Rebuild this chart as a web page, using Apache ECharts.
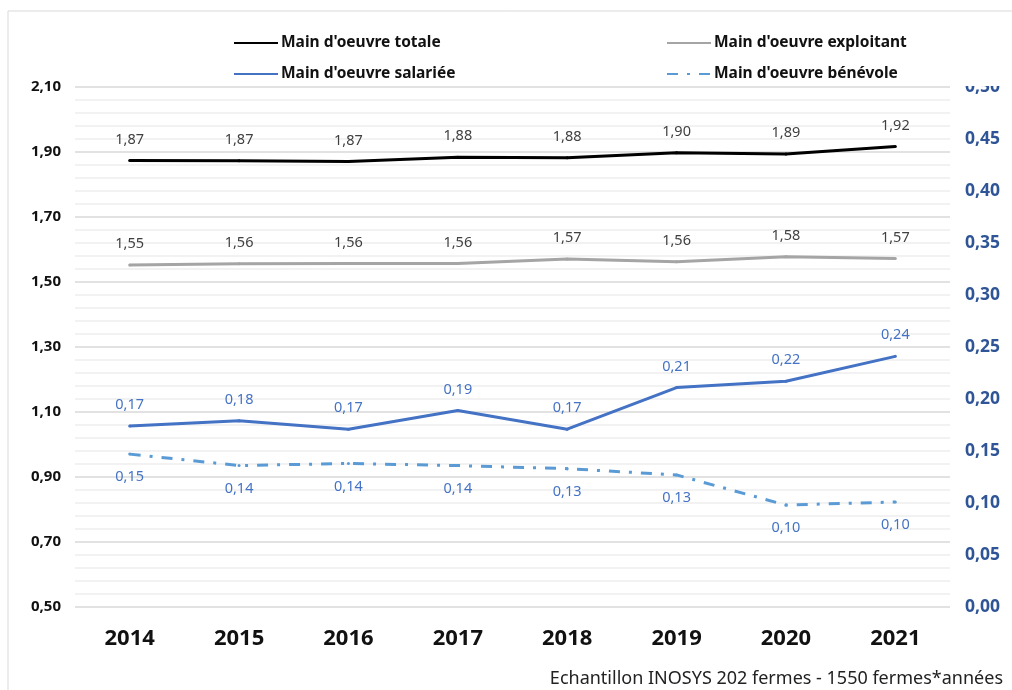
<!DOCTYPE html>
<html>
<head>
<meta charset="utf-8">
<script src="https://cdn.jsdelivr.net/npm/echarts@6/dist/echarts.min.js"></script>
<style>
    html, body { margin: 0; padding: 0; background: #fff; }
    #chart { width: 1012px; height: 690px; }
</style>
</head>
<body>
<div id="chart"></div>
<script>
// données
var years = ['2014', '2015', '2016', '2017', '2018', '2019', '2020', '2021'];
var totale = [1.874, 1.873, 1.871, 1.884, 1.882, 1.898, 1.894, 1.917];
var exploitant = [1.552, 1.556, 1.557, 1.557, 1.571, 1.562, 1.578, 1.572];
var salariee = [0.174, 0.179, 0.171, 0.189, 0.171, 0.211, 0.217, 0.241];
var benevole = [0.147, 0.136, 0.138, 0.136, 0.133, 0.127, 0.098, 0.101];

var FONT = '"Noto Sans", "Open Sans", sans-serif';

function fr(v) {
    return v.toFixed(2).replace('.', ',');
}

function lineSerie(name, data, axis, color, dash, labelColor, labelPos) {
    return {
        name: name, type: 'line', data: data, yAxisIndex: axis,
        symbol: 'circle', symbolSize: 3, showSymbol: true, z: 3,
        lineStyle: { color: color, width: 3, type: dash },
        itemStyle: { color: color },
        label: {
            show: true, position: labelPos, distance: labelPos === 'top' ? 12 : 14,
            fontSize: 14.5, color: labelColor,
            formatter: function (p) { return fr(p.value); }
        }
    };
}

var chart = echarts.init(document.getElementById('chart'));

var legendBase = {
    top: 30, orient: 'vertical', itemGap: 15, itemWidth: 44, itemHeight: 4, z: 5,
    itemStyle: { opacity: 0 },
    textStyle: { fontSize: 15.5, fontWeight: 'bold', color: '#111', padding: [0, 0, 0, -2] }
};

var option = {
    animation: false,
    textStyle: { fontFamily: FONT },
    graphic: [
        // cadre du graphique
        { type: 'rect', shape: { x: 8, y: 11, width: 1010, height: 700 }, style: { fill: 'none', stroke: '#d9d9d9', lineWidth: 1 }, z: 1 },
        // fond blanc de la légende
        { type: 'rect', shape: { x: 133, y: 18, width: 870, height: 68 }, style: { fill: '#fff' }, z: 3 },
        { type: 'text', right: 9, bottom: 2, style: { text: 'Echantillon INOSYS 202 fermes - 1550 fermes*années', font: '18px ' + FONT, fill: '#222' }, z: 5 }
    ],
    legend: [
        Object.assign({}, legendBase, { left: 228, data: ['Main d\'oeuvre totale', 'Main d\'oeuvre salariée'] }),
        Object.assign({}, legendBase, { left: 661, data: ['Main d\'oeuvre exploitant', 'Main d\'oeuvre bénévole'] })
    ],
    grid: { left: 75, right: 62, top: 87, bottom: 83 },
    xAxis: {
        type: 'category',
        data: years,
        axisLine: { show: false },
        axisTick: { show: false },
        axisLabel: { fontSize: 22, fontWeight: 'bold', color: '#111', margin: 21 }
    },
    yAxis: [
        {
            type: 'value', min: 0.5, max: 2.1, interval: 0.2,
            axisLine: { show: false }, axisTick: { show: false },
            axisLabel: { fontSize: 15, fontWeight: 'bold', color: '#111', margin: 14, formatter: fr },
            splitLine: { lineStyle: { color: '#d9d9d9', width: 1.5 } },
            minorTick: { show: false, splitNumber: 5 },
            minorSplitLine: { show: true, lineStyle: { color: '#eeeeee', width: 1.5 } }
        },
        {
            type: 'value', min: 0, max: 0.5, interval: 0.05,
            axisLine: { show: false }, axisTick: { show: false },
            axisLabel: { fontSize: 17.5, fontWeight: 'bold', color: '#2F5597', margin: 15, formatter: fr },
            splitLine: { show: false }
        }
    ],
    series: [
        lineSerie('Main d\'oeuvre totale', totale, 0, '#000000', 'solid', '#404040', 'top'),
        lineSerie('Main d\'oeuvre exploitant', exploitant, 0, '#a5a5a5', 'solid', '#404040', 'top'),
        lineSerie('Main d\'oeuvre salariée', salariee, 1, '#4472C4', 'solid', '#4472C4', 'top'),
        lineSerie('Main d\'oeuvre bénévole', benevole, 1, '#5B9BD5', [11, 9, 3, 9], '#4472C4', 'bottom')
    ]
};

chart.setOption(option);
</script>
</body>
</html>
